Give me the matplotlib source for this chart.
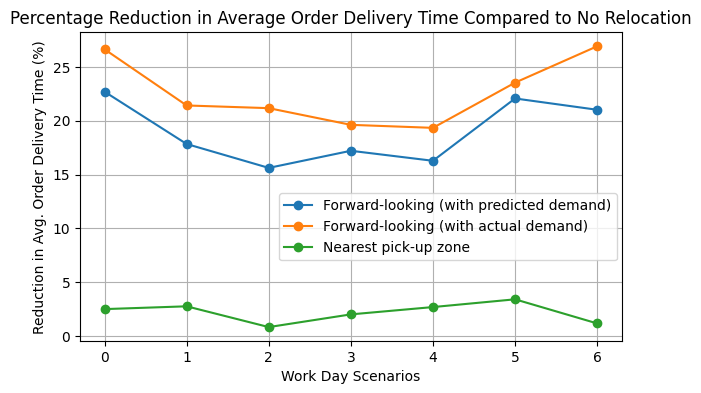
import matplotlib
matplotlib.use("Agg")
import matplotlib.pyplot as plt

scenarios = [0, 1, 2, 3, 4, 5, 6]
predicted = [22.71, 17.85, 15.63, 17.22, 16.29, 22.08, 21.03]
actual = [26.65, 21.43, 21.18, 19.63, 19.35, 23.55, 26.93]
nearest = [2.51, 2.77, 0.84, 2.02, 2.70, 3.42, 1.18]

fig, ax = plt.subplots(figsize=(7.01, 3.93), dpi=100)
ax.plot(scenarios, predicted, marker='o', label='Forward-looking (with predicted demand)')
ax.plot(scenarios, actual, marker='o', label='Forward-looking (with actual demand)')
ax.plot(scenarios, nearest, marker='o', label='Nearest pick-up zone')
ax.set_title('Percentage Reduction in Average Order Delivery Time Compared to No Relocation')
ax.set_xlabel('Work Day Scenarios')
ax.set_ylabel('Reduction in Avg. Order Delivery Time (%)')
ax.grid(True)
ax.legend(loc='lower right', bbox_to_anchor=(1.004, 0.239))
fig.subplots_adjust(left=0.114, right=0.887, top=0.918, bottom=0.132)
fig.savefig('out.png', dpi=100)
